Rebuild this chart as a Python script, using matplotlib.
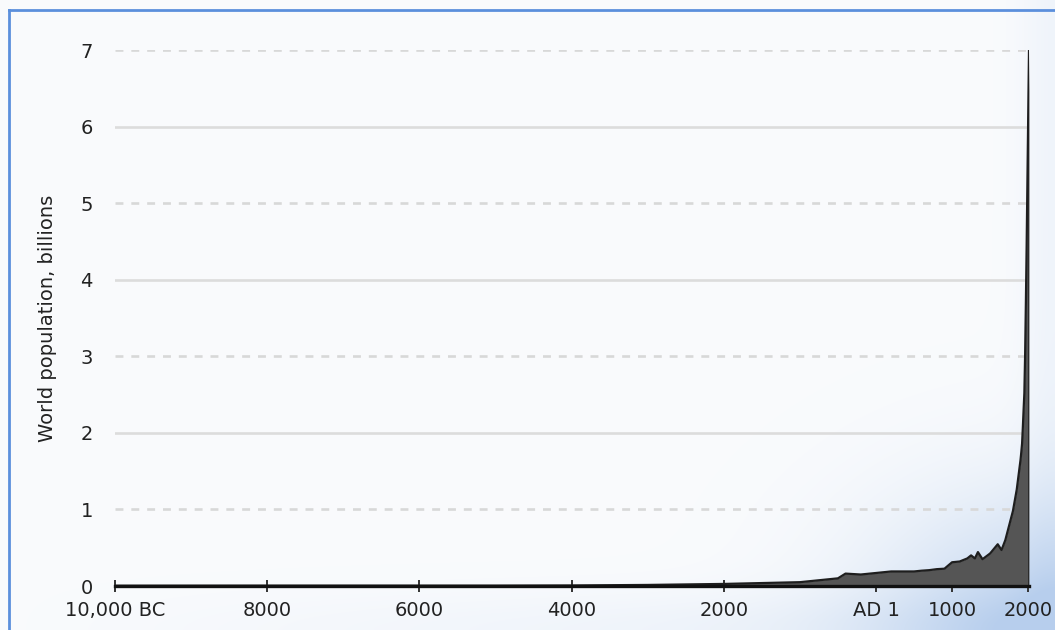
import matplotlib.pyplot as plt
import numpy as np

# world population estimates, billions
years = [-10000, -8000, -6500, -5000, -4000, -3000, -2000, -1000, -500, -400,
         -200, 1, 200, 400, 500, 600, 700, 800, 900, 1000, 1100, 1200, 1250,
         1300, 1340, 1400, 1500, 1600, 1650, 1700, 1750, 1800, 1850, 1900,
         1910, 1920, 1930, 1940, 1950, 1960, 1970, 1980, 1990, 2000, 2011]
pop = [0.004, 0.005, 0.005, 0.005, 0.007, 0.014, 0.027, 0.050, 0.100, 0.162,
       0.150, 0.170, 0.190, 0.190, 0.190, 0.200, 0.207, 0.220, 0.226, 0.310,
       0.320, 0.360, 0.400, 0.360, 0.443, 0.350, 0.425, 0.545, 0.470, 0.600,
       0.790, 0.980, 1.260, 1.650, 1.750, 1.860, 2.070, 2.300, 2.520, 3.020,
       3.700, 4.440, 5.270, 6.100, 7.000]

xtick_pos = [-10000, -8000, -6000, -4000, -2000, 1, 1000, 2000]
xtick_lab = ['10,000 BC', '8000', '6000', '4000', '2000', 'AD 1', '1000', '2000']
ytick_pos = [0, 1, 2, 3, 4, 5, 6, 7]

fig = plt.figure(figsize=(10.55, 6.3), dpi=100)

# soft background with a bluish glow in the lower right
bg = fig.add_axes([0, 0, 1, 1], zorder=-10)
h, w = 630, 1055
yy, xx = np.mgrid[0:h, 0:w]
d = np.sqrt(((w - xx) / 240.0) ** 2 + ((h - yy) / 180.0) ** 2)
f = 0.85 * np.exp(-d ** 2 * 1.8)
f += 0.25 * np.exp(-((h - yy) / 40.0) ** 2) * (xx / w)
f += 0.15 * np.exp(-((w - xx) / 35.0) ** 2)
f = np.clip(f, 0, 1)
base = np.array([0.978, 0.984, 0.992])
blue = np.array([0.72, 0.81, 0.93])
img = base[None, None, :] * (1 - f[..., None]) + blue[None, None, :] * f[..., None]
bg.imshow(img, aspect='auto', extent=[0, 1, 0, 1], origin='upper')
bg.plot([9 / w, 9 / w], [0, 1 - 10 / h], color='#5b8fdc', lw=2)
bg.plot([9 / w, 1], [1 - 10 / h, 1 - 10 / h], color='#5b8fdc', lw=2)
bg.set_xlim(0, 1)
bg.set_ylim(0, 1)
bg.axis('off')

ax = fig.add_axes([115 / w, 1 - 586 / h, (1029 - 115) / w, (586 - 50) / h])
ax.patch.set_alpha(0)

for v in ytick_pos[1:]:
    if v % 2 == 1:
        ax.axhline(v, color='#d8d8d8', lw=1.9, linestyle=(0, (3.0, 3.0)), zorder=1)
    else:
        ax.axhline(v, color='#dcdcdc', lw=1.9, zorder=1)

ax.fill_between(years, pop, 0, color='#555555', lw=0, zorder=2)
ax.plot(years, pop, color='#1e1e1e', lw=1.6, zorder=3)
ax.plot([years[-1], years[-1]], [0, pop[-1]], color='#1e1e1e', lw=1.8, zorder=3)

ax.set_xlim(-10000, 2011)
ax.set_ylim(0, 7)

for s in ['top', 'right', 'left']:
    ax.spines[s].set_visible(False)
ax.spines['bottom'].set_linewidth(2.4)
ax.spines['bottom'].set_color('#111111')
ax.spines['bottom'].set_zorder(4)

ax.set_xticks(xtick_pos)
ax.set_xticklabels(xtick_lab)
ax.set_yticks(ytick_pos)
ax.tick_params(axis='x', direction='inout', length=8, width=1.4, color='#333333',
               labelsize=14, labelcolor='#222222', pad=7)
ax.tick_params(axis='y', length=0, labelsize=14, labelcolor='#222222', pad=16)
ax.set_ylabel('World population, billions', fontsize=14, color='#222222', labelpad=17)

plt.savefig('out.png', dpi=100)
